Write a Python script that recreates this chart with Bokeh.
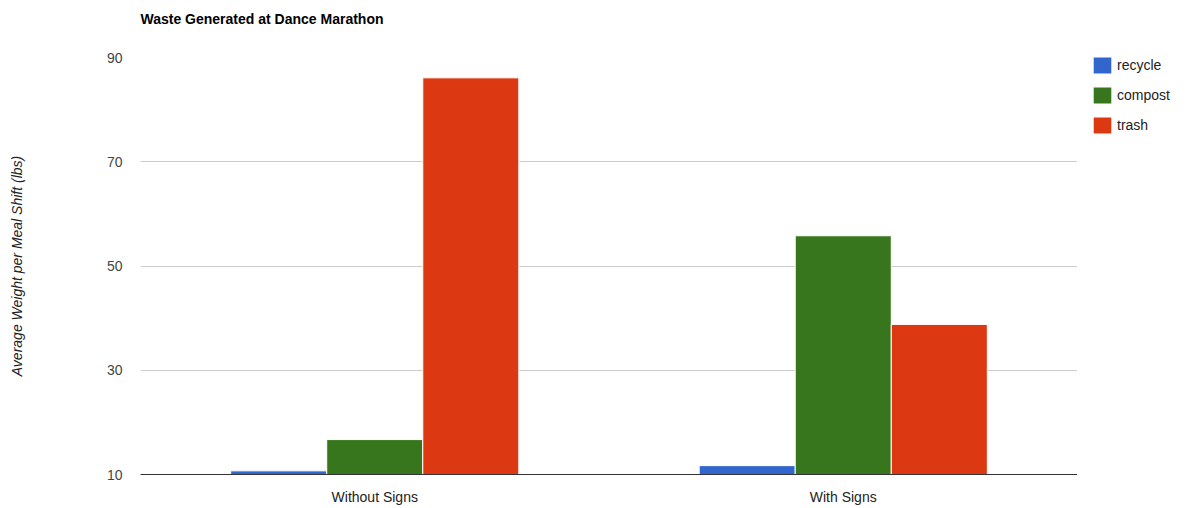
from bokeh.plotting import figure
from bokeh.layouts import row
from bokeh.models import ColumnDataSource, FactorRange, Range1d, FixedTicker, Legend, LegendItem, Title
from bokeh.transform import dodge
from bokeh.embed import file_html
from bokeh.resources import INLINE

categories = ["Without Signs", "With Signs"]
series = ["recycle", "compost", "trash"]
recycle = [10.7, 11.7]
compost = [16.7, 55.8]
trash = [86.1, 38.8]
y_ticks = [10, 30, 50, 70, 90]
colors = ["#3366cc", "#38761d", "#dc3912"]
chart_title = "Waste Generated at Dance Marathon"
y_label = "Average Weight per Meal Shift (lbs)"

y_min, y_max = 10, 90

src = ColumnDataSource(dict(cat=categories, recycle=recycle, compost=compost, trash=trash))

p = figure(width=1077, height=508, x_range=FactorRange(*categories, range_padding=0),
           y_range=Range1d(y_min, y_max), output_backend="svg", toolbar_location=None,
           title_location=None,
           min_border_left=140, min_border_right=0, min_border_top=57, min_border_bottom=34)

FONT = "Liberation Sans"
spacer = Title(text=" ", text_font=FONT, text_font_size="14px", standoff=13)
p.add_layout(spacer, "above")
main_title = Title(text=chart_title, text_font=FONT, text_font_size="14px",
                   text_font_style="bold", text_color="#000000", align="left", standoff=0)
p.add_layout(main_title, "above")

bw = 0.205
renderers = []
for i, (name, col) in enumerate(zip(series, colors)):
    r = p.vbar(x=dodge("cat", (i - 1) * bw, range=p.x_range), top=name, bottom=y_min,
               width=bw, source=src, fill_color=col, line_color="white", line_width=1)
    renderers.append(r)

p.outline_line_color = None
p.xgrid.grid_line_color = None
p.ygrid.grid_line_color = "#cccccc"
p.ygrid.ticker = FixedTicker(ticks=y_ticks)

ya = p.yaxis[0]
ya.ticker = FixedTicker(ticks=y_ticks)
ya.axis_line_color = None
ya.major_tick_line_color = None
ya.minor_tick_line_color = None
ya.major_label_text_font = FONT
ya.major_label_text_font_size = "14px"
ya.major_label_text_color = "#444444"
ya.major_label_standoff = 12
ya.axis_label = y_label
ya.axis_label_text_font = FONT
ya.axis_label_text_font_size = "14px"
ya.axis_label_text_font_style = "italic"
ya.axis_label_text_color = "#222222"
ya.axis_label_standoff = 79

xa = p.xaxis[0]
xa.axis_line_color = "#333333"
xa.axis_line_width = 1
xa.major_tick_line_color = None
xa.minor_tick_line_color = None
xa.major_label_text_font = FONT
xa.major_label_text_font_size = "14px"
xa.major_label_text_color = "#222222"
xa.major_label_standoff = 8

# legend panel as its own small figure to the right of the chart
lp = figure(width=110, height=508, x_range=Range1d(0, 1), y_range=Range1d(0, 1),
            output_backend="svg", toolbar_location=None, title_location=None,
            x_axis_location=None, y_axis_location=None,
            min_border_left=0, min_border_right=0, min_border_top=0, min_border_bottom=0)
lp.outline_line_color = None
lp.xgrid.visible = False
lp.ygrid.visible = False
# zero-size placeholder bars: only their colours are used, by the legend
legend_renderers = [lp.vbar(x=[0], top=[0], bottom=[0], width=0, fill_color=c, line_color=None)
                    for c in colors]

legend = Legend(items=[LegendItem(label=n, renderers=[r]) for n, r in zip(series, legend_renderers)],
                location=(14, 339), orientation="vertical")
legend.border_line_color = None
legend.background_fill_alpha = 0
legend.padding = 0
legend.margin = 0
legend.spacing = 10
legend.glyph_width = 22
legend.glyph_height = 20
legend.label_height = 16
legend.label_standoff = 4
legend.label_text_font = FONT
legend.label_text_font_size = "14px"
legend.label_text_color = "#222222"
lp.add_layout(legend, "center")

layout = row(p, lp, spacing=0)
open("out.html", "w").write(file_html(layout, INLINE))
